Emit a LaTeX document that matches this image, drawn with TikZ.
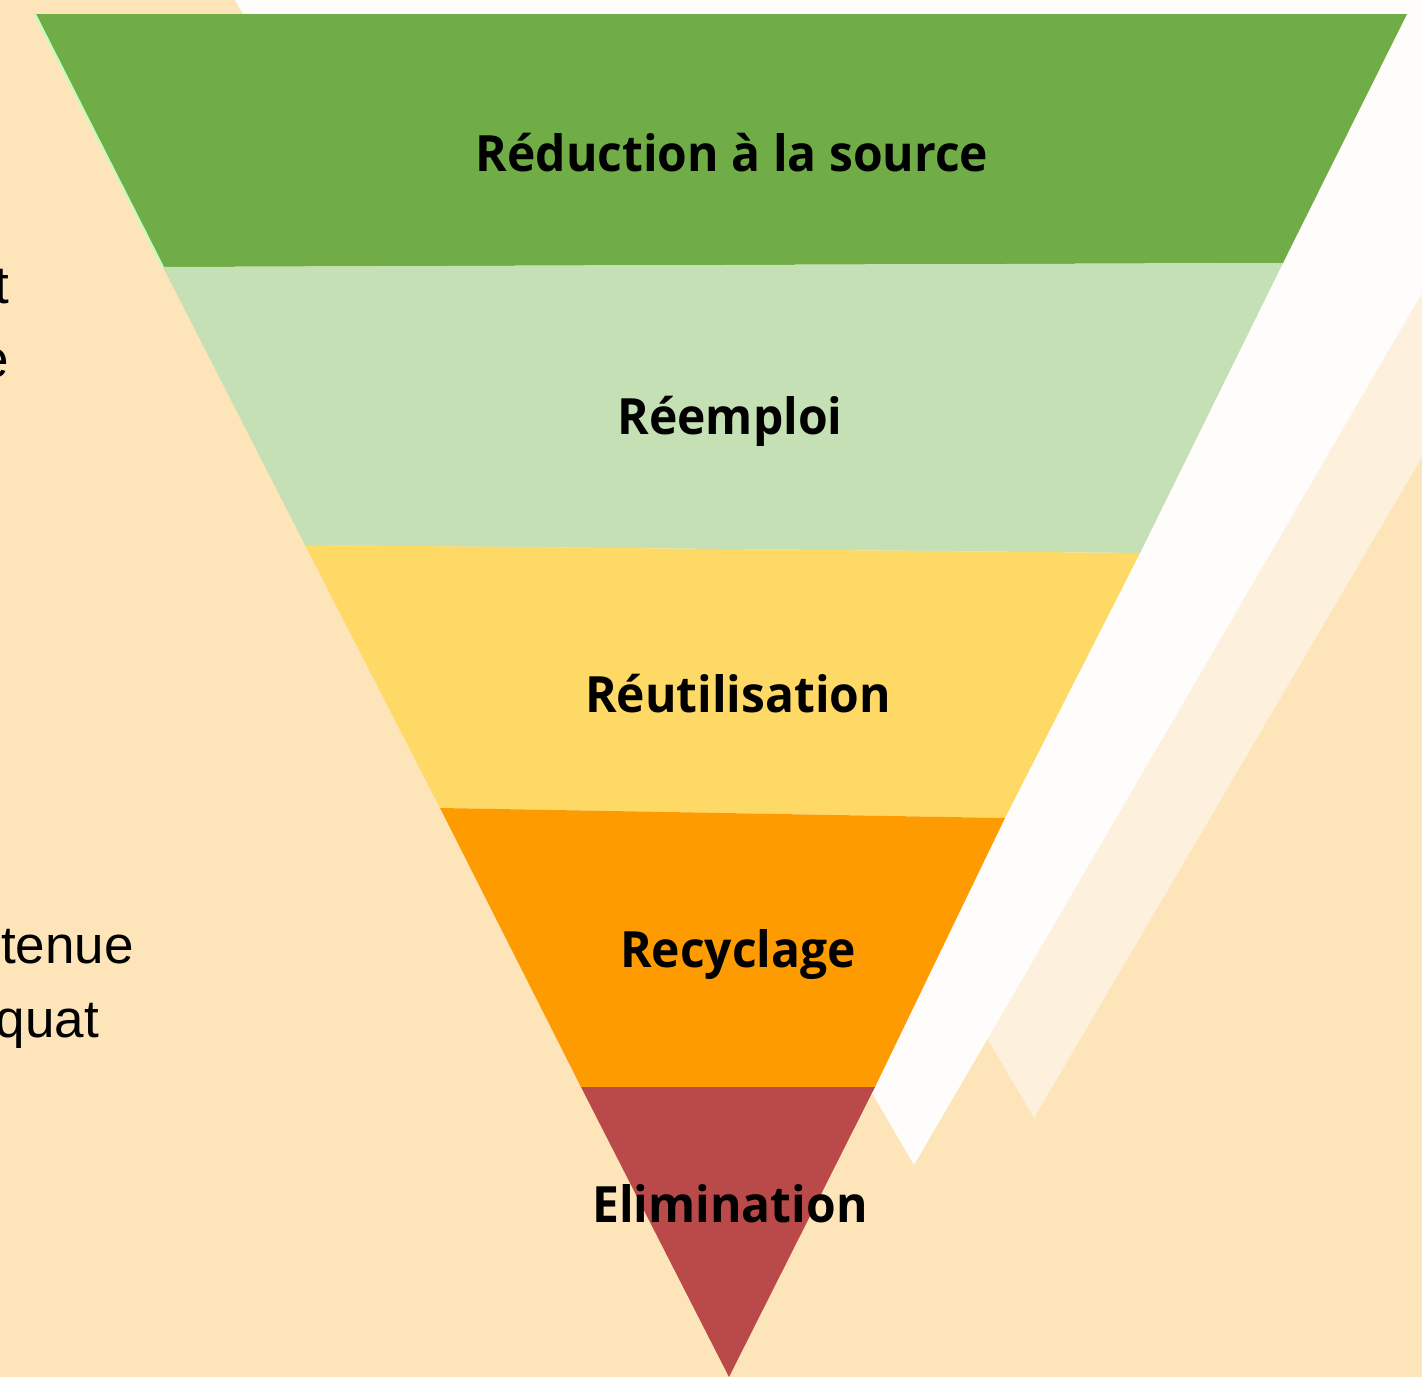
\documentclass[tikz,border=0pt]{standalone}
\usepackage{fontspec}
\setmainfont{Open Sans}
\newfontfamily\labelfont[FakeStretch=0.96]{Open Sans}
\newfontfamily\leftfont{Liberation Sans}
\definecolor{peach}{HTML}{FDE4B9}
\definecolor{creamlight}{HTML}{FDF0DC}
\definecolor{offwhite}{HTML}{FEFDFB}
\definecolor{gdark}{HTML}{70AD47}
\definecolor{glight}{HTML}{C5E0B4}
\definecolor{yel}{HTML}{FED966}
\definecolor{ora}{HTML}{FE9B00}
\definecolor{redb}{HTML}{BA4A4A}
\tikzset{
  label/.style={font=\labelfont\fontsize{50}{58}\selectfont\bfseries, anchor=base, inner sep=0pt, text=black},
  sidetext/.style={font=\leftfont\fontsize{53}{60}\selectfont, anchor=base east, inner sep=0pt, text=black}
}
\begin{document}
\begin{tikzpicture}[x=1pt,y=-1pt]
\useasboundingbox (0,0) rectangle (1422,1377);
\clip (0,0) rectangle (1422,1377);
% background
\fill[peach] (0,0) rectangle (1422,1377);
% light cream chevron
\fill[creamlight] (1034,1118) -- (1422,457) -- (1422,0) -- (377,0) -- cycle;
% white chevron
\fill[offwhite] (235,0) -- (1422,0) -- (1422,293) -- (914,1165) -- cycle;
% funnel corners
\coordinate (TL) at (35,14);
\coordinate (TR) at (1407,14);
\coordinate (A1) at (163,267);
\coordinate (B1) at (1283,263);
\coordinate (A2) at (305,545);
\coordinate (B2) at (1140,553);
\coordinate (A3) at (440,808);
\coordinate (B3) at (1005,818);
\coordinate (A4) at (581,1087);
\coordinate (B4) at (875,1087);
\coordinate (AP) at (729,1377);
\fill[gdark] (TL) -- (TR) -- (B1) -- (A1) -- cycle;
\fill[glight] (A1) -- (B1) -- (B2) -- (A2) -- cycle;
\fill[yel] (A2) -- (B2) -- (B3) -- (A3) -- cycle;
\fill[ora] (A3) -- (B3) -- (B4) -- (A4) -- cycle;
\fill[redb] (A4) -- (B4) -- (AP) -- cycle;
\draw[white!75!green, line width=2pt] (TL) -- (A1);
% labels
\node[label] (l1) at (732,171) {Réduction à la source};
\node[label] (l2) at (730,434) {Réemploi};
\node[label] (l3) at (738,712) {Réutilisation};
\node[label] (l4) at (738,967) {Recyclage};
\node[label] (l5) at (730,1222) {Elimination};
% clipped side texts
\node[sidetext] (s1) at (9,303) {t};
\node[sidetext] (s2) at (9,377) {e};
\node[sidetext] (s3) at (134,963) {tenue};
\node[sidetext] (s4) at (99,1037) {quat};
\end{tikzpicture}
\end{document}
